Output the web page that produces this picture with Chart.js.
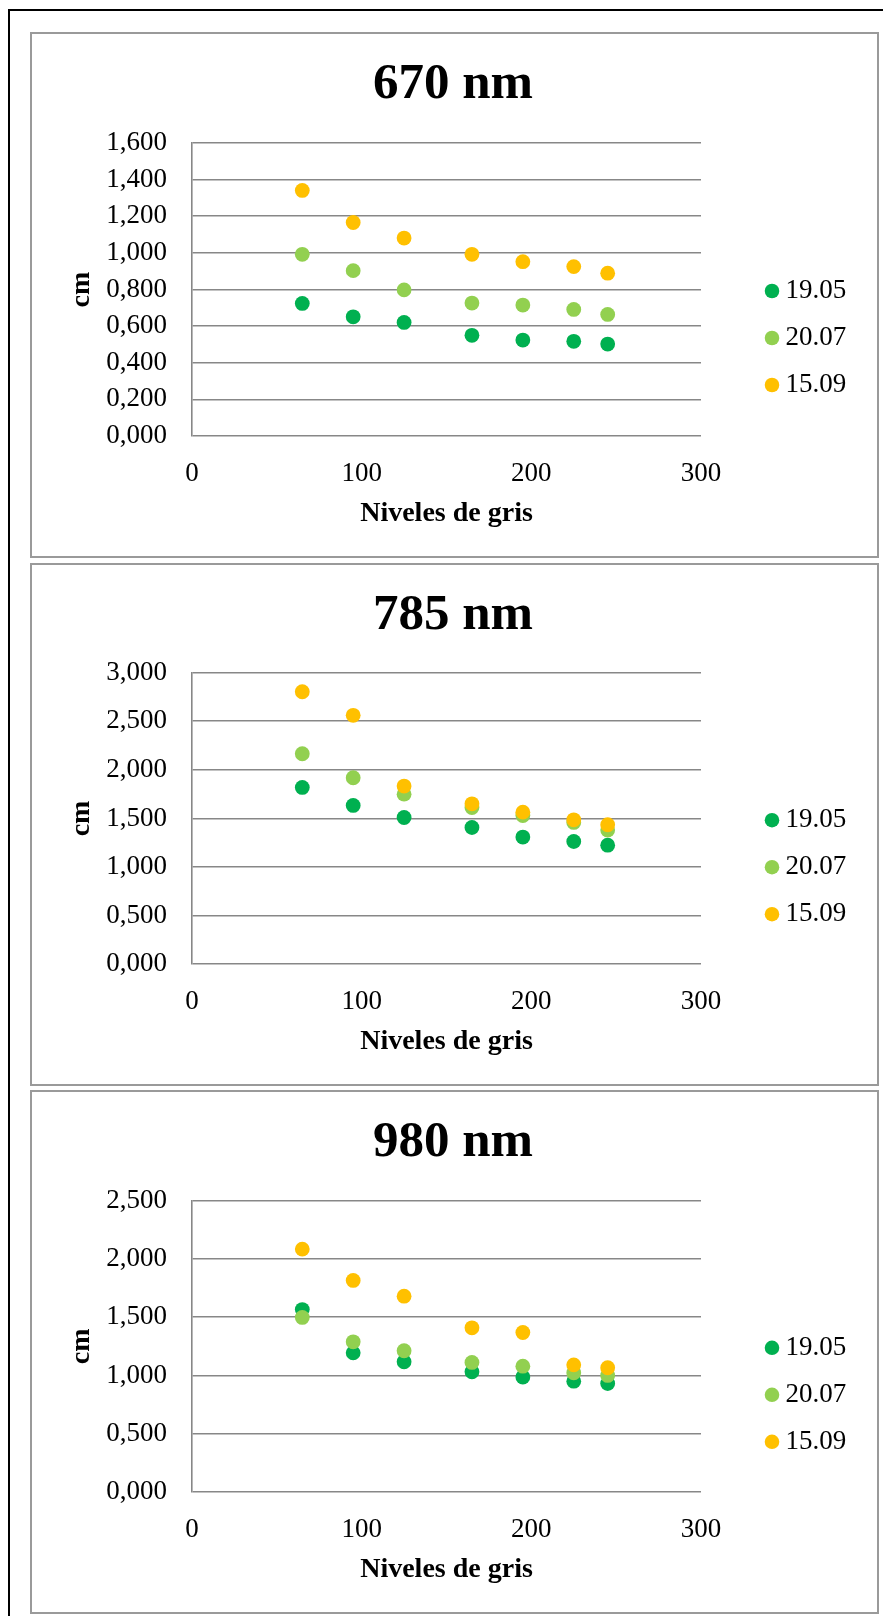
<!DOCTYPE html>
<html lang="es">
<head>
<meta charset="utf-8">
<title>Espesor frente a niveles de gris</title>
<script src="https://cdn.jsdelivr.net/npm/chart.js@4.4.1/dist/chart.umd.min.js"></script>
<style>
  html, body { margin: 0; padding: 0; background: #fff; }
  body { width: 883px; height: 1616px; position: relative; overflow: hidden; }
  .marco { position: absolute; left: 8px; top: 9px; width: 900px; height: 1700px;
           border: 2px solid #000; box-sizing: border-box; }
  .panel { position: absolute; left: 30px; width: 849px; border: 2px solid #9a9a9a;
           box-sizing: border-box; pointer-events: none; }
  canvas { position: absolute; }
</style>
</head>
<body>
<div class="marco"></div>
<script>
// Niveles de gris (eje X), comunes a las tres longitudes de onda
const NIVELES = [65, 95, 125, 165, 195, 225, 245];
const FECHAS = ['19.05', '20.07', '15.09'];
const TITULOS = ['670 nm', '785 nm', '980 nm'];
const X_TICKS = [0, 100, 200, 300];
const Y_MAX = [1.6, 3.0, 2.5];
const Y_PASO = [0.2, 0.5, 0.5];

// Espesor (cm) por fecha, 670 nm
const CM670_1905 = [0.724, 0.651, 0.620, 0.550, 0.524, 0.517, 0.502];
const CM670_2007 = [0.992, 0.903, 0.798, 0.726, 0.715, 0.691, 0.664];
const CM670_1509 = [1.341, 1.166, 1.081, 0.992, 0.952, 0.925, 0.889];

// 785 nm
const CM785_1905 = [1.819, 1.634, 1.510, 1.407, 1.308, 1.263, 1.225];
const CM785_2007 = [2.166, 1.919, 1.750, 1.612, 1.530, 1.459, 1.380];
const CM785_1509 = [2.804, 2.561, 1.833, 1.651, 1.565, 1.486, 1.435];

// 980 nm
const CM980_1905 = [1.566, 1.194, 1.117, 1.031, 0.986, 0.951, 0.931];
const CM980_2007 = [1.498, 1.289, 1.212, 1.112, 1.080, 1.023, 1.000];
const CM980_1509 = [2.085, 1.816, 1.681, 1.409, 1.369, 1.091, 1.066];

const SERIES = [
  [CM670_1905, CM670_2007, CM670_1509],
  [CM785_1905, CM785_2007, CM785_1509],
  [CM980_1905, CM980_2007, CM980_1509]
];

// Estilo
const COLORES = ['#00B050', '#92D050', '#FFC000'];
const FUENTE = "'Liberation Serif', 'Times New Roman', serif";
const GRIS_REJILLA = '#878787';
const TAM_TICKS = 27;
const TAM_TITULO = 51;
const TAM_EJES = 28;

// Geometría de cada panel (px de página / px de lienzo)
const PANEL_TOP = [32, 563, 1090];
const PANEL_ALTO = [526, 523, 524];
const AREA_TOP = [111, 109.7, 110.8];
const AREA_BOTTOM = [404, 401.2, 401.9];
const LEYENDA_Y = [259, 257.2, 257.8];
const TITULO_Y = 53;
const LIENZO_LEFT = 58;
const LIENZO_ANCHO = 790;
const EJE_Y_ANCHO = 134;
const HUECO_LEYENDA = 51;
const LEYENDA_ANCHO = 96;
const LEYENDA_FUENTE = 27;
const LEYENDA_PAD = 20;

Chart.defaults.font.family = FUENTE;
Chart.defaults.color = '#000';

function decimalComa(v) {
  return v.toFixed(3).replace('.', ',');
}

function crearGrafico(i) {
  const alto = PANEL_ALTO[i];
  const top = AREA_TOP[i];
  const bottom = AREA_BOTTOM[i];

  const panel = document.createElement('div');
  panel.className = 'panel';
  panel.style.top = PANEL_TOP[i] + 'px';
  panel.style.height = alto + 'px';

  const lienzo = document.createElement('canvas');
  lienzo.width = LIENZO_ANCHO;
  lienzo.height = alto;
  lienzo.style.left = LIENZO_LEFT + 'px';
  lienzo.style.top = PANEL_TOP[i] + 'px';
  document.body.appendChild(lienzo);
  document.body.appendChild(panel);

  // desplazamiento vertical del bloque de la leyenda
  const bloque = FECHAS.length * (LEYENDA_FUENTE + LEYENDA_PAD);
  const tituloLeyenda = 2 * (LEYENDA_Y[i] - LEYENDA_FUENTE / 2) - LEYENDA_PAD - alto + bloque;
  const altoLineaTitulo = TAM_TITULO * 1.2;
  const altoLineaEje = TAM_EJES * 1.2;

  new Chart(lienzo, {
    type: 'scatter',
    data: {
      datasets: FECHAS.map((fecha, k) => ({
        label: fecha,
        data: NIVELES.map((x, j) => ({ x: x, y: SERIES[i][k][j] })),
        backgroundColor: COLORES[k],
        borderColor: COLORES[k],
        borderWidth: 0,
        pointRadius: 7.4,
        pointHoverRadius: 7.4,
        order: FECHAS.length - k
      }))
    },
    options: {
      responsive: false,
      animation: false,
      devicePixelRatio: 1,
      layout: { padding: 0 },
      plugins: {
        tooltip: { enabled: false },
        title: {
          display: true,
          text: TITULOS[i],
          color: '#000',
          font: { size: TAM_TITULO, weight: 'bold', lineHeight: 1.2 },
          padding: {
            top: TITULO_Y - altoLineaTitulo / 2,
            bottom: top - TITULO_Y - altoLineaTitulo / 2
          }
        },
        legend: {
          position: 'right',
          maxWidth: LEYENDA_ANCHO,
          title: {
            display: true,
            text: '',
            font: { size: 10, lineHeight: 1 },
            padding: { top: tituloLeyenda - 10, bottom: 0 }
          },
          labels: {
            usePointStyle: true,
            boxWidth: 0.01,
            boxHeight: 10.3,
            padding: LEYENDA_PAD,
            color: '#000',
            font: { size: LEYENDA_FUENTE },
            sort: (a, b) => a.datasetIndex - b.datasetIndex
          }
        }
      },
      scales: {
        x: {
          type: 'linear',
          position: 'bottom',
          min: X_TICKS[0],
          max: X_TICKS[X_TICKS.length - 1],
          ticks: {
            stepSize: X_TICKS[1] - X_TICKS[0],
            autoSkip: false,
            padding: 21.5,
            color: '#000',
            font: { size: TAM_TICKS },
            callback: v => String(v)
          },
          grid: { display: false, drawTicks: false },
          border: { display: false },
          title: {
            display: true,
            text: 'Niveles de gris',
            color: '#000',
            font: { size: TAM_EJES, weight: 'bold', lineHeight: 1.2 },
            padding: { top: 0, bottom: alto - bottom - 78 - altoLineaEje / 2 }
          },
          afterFit: s => { s.height = alto - bottom; }
        },
        y: {
          type: 'linear',
          position: 'left',
          min: 0,
          max: Y_MAX[i],
          ticks: {
            stepSize: Y_PASO[i],
            autoSkip: false,
            padding: 25,
            color: '#000',
            font: { size: TAM_TICKS },
            callback: v => decimalComa(v)
          },
          grid: { color: GRIS_REJILLA, lineWidth: 1.6, drawTicks: false },
          border: { display: true, color: GRIS_REJILLA, width: 1.6 },
          title: {
            display: true,
            text: 'cm',
            color: '#000',
            font: { size: TAM_EJES, weight: 'bold', lineHeight: 1.2 },
            padding: { top: 23.4 - altoLineaEje / 2, bottom: 0 }
          },
          afterFit: s => { s.width = EJE_Y_ANCHO; }
        },
        huecoLeyenda: {
          type: 'linear',
          position: 'right',
          display: true,
          grid: { display: false, drawTicks: false },
          border: { display: false },
          ticks: { display: false },
          afterFit: s => { s.width = HUECO_LEYENDA; }
        }
      }
    }
  });
}

for (let i = 0; i < TITULOS.length; i++) {
  crearGrafico(i);
}
</script>
</body>
</html>
